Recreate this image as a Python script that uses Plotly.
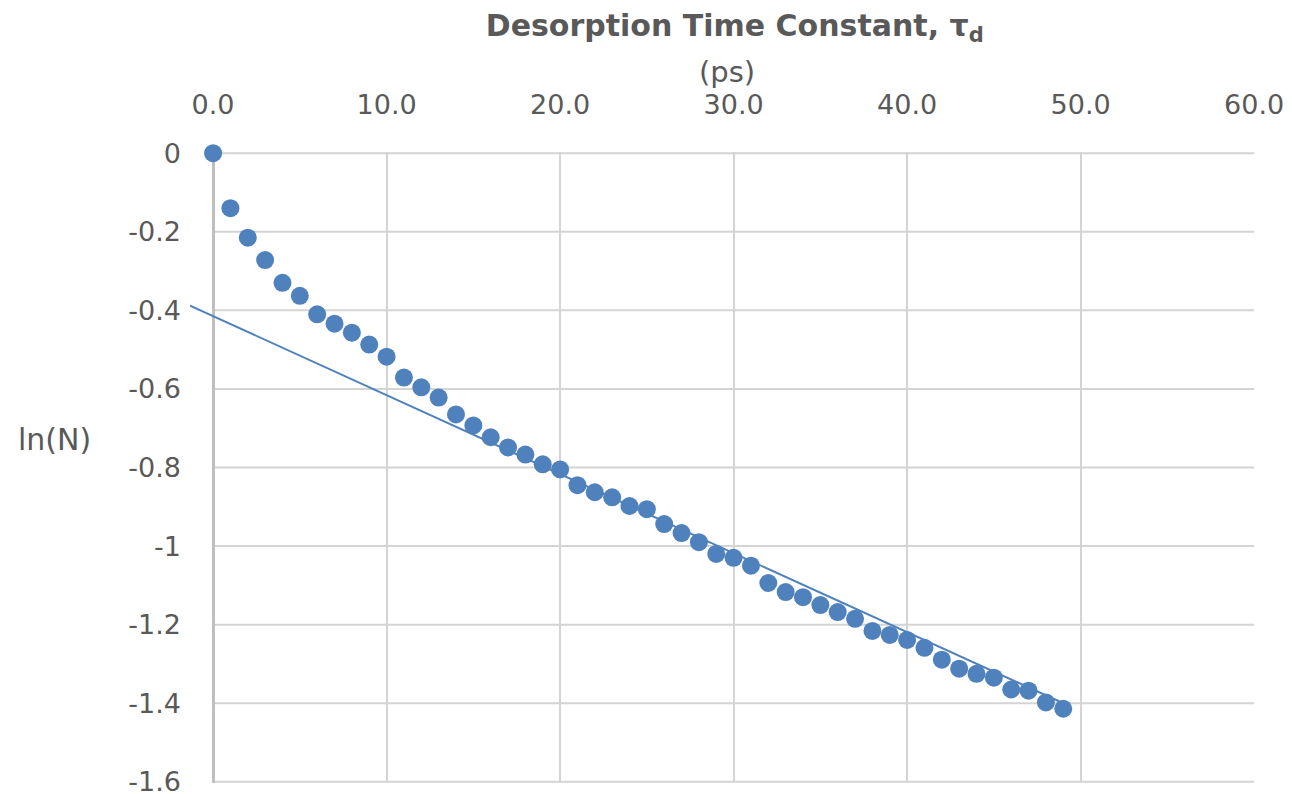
import plotly.graph_objects as go

# ---- data ----
time_ps = list(range(0, 50))
ln_n = [0.000, -0.140, -0.215, -0.272, -0.330, -0.363, -0.410, -0.434, -0.457, -0.487,
        -0.518, -0.571, -0.596, -0.622, -0.665, -0.693, -0.723, -0.749, -0.767, -0.792,
        -0.805, -0.845, -0.863, -0.876, -0.898, -0.906, -0.944, -0.967, -0.990, -1.020,
        -1.030, -1.050, -1.094, -1.117, -1.130, -1.150, -1.168, -1.185, -1.216, -1.226,
        -1.239, -1.259, -1.289, -1.312, -1.325, -1.335, -1.365, -1.368, -1.398, -1.414]
trend_x = [-1.33, 49.0]
trend_y = [-0.388, -1.400]
x_ticks = [0, 10, 20, 30, 40, 50, 60]
x_ticktext = ["0.0", "10.0", "20.0", "30.0", "40.0", "50.0", "60.0"]
y_ticks = [0, -0.2, -0.4, -0.6, -0.8, -1.0, -1.2, -1.4, -1.6]
y_ticktext = ["0", "-0.2", "-0.4", "-0.6", "-0.8", "-1", "-1.2", "-1.4", "-1.6"]

BLUE = "#4f81bd"
TXT = "#595959"
GRID = "#d4d4d4"
FONT = "DejaVu Sans"

fig = go.Figure()
fig.add_trace(go.Scatter(x=trend_x, y=trend_y, mode="lines",
                         line=dict(color=BLUE, width=2), hoverinfo="skip",
                         showlegend=False))
fig.add_trace(go.Scatter(x=time_ps, y=ln_n, mode="markers",
                         marker=dict(color=BLUE, size=18, line=dict(width=0)),
                         cliponaxis=False, showlegend=False))

# horizontal gridlines only across the x-axis span (trendline extends left of the axis)
for v in y_ticks:
    fig.add_shape(type="line", xref="x", yref="y", x0=x_ticks[0], x1=x_ticks[-1], y0=v, y1=v,
                  line=dict(color=GRID, width=2), layer="below")

fig.update_layout(
    width=1284, height=786,
    margin=dict(l=182, r=37, t=144, b=11),
    paper_bgcolor="white", plot_bgcolor="white",
    font=dict(family=FONT, color=TXT),
    title=dict(text="<b>Desorption Time Constant, τ<sub>d</sub></b>",
               x=0.566, xanchor="center", y=0.978, yanchor="middle",
               font=dict(family=FONT, size=30, color=TXT)),
    xaxis=dict(side="top", range=[-1.33, 60.05], tickvals=x_ticks, ticktext=x_ticktext,
               showgrid=True, gridcolor=GRID, gridwidth=2,
               zeroline=True, zerolinecolor="#bfbfbf", zerolinewidth=3,
               showline=False, ticks="", tickfont=dict(size=27, color=TXT),
               ticklabelstandoff=32, automargin=False),
    yaxis=dict(range=[-1.603, 0.003], tickvals=y_ticks, ticktext=y_ticktext,
               showgrid=False, zeroline=False,
               showline=False, ticks="", tickfont=dict(size=27, color=TXT),
               ticklabelstandoff=8, ticklabeloverflow="allow", automargin=False),
)
fig.add_annotation(text="(ps)", xref="paper", yref="paper", x=0.504, y=1.127,
                   xanchor="center", yanchor="middle", showarrow=False,
                   font=dict(size=29, color=TXT, family=FONT))
fig.add_annotation(text="ln(N)", xref="paper", yref="paper", x=-0.127, y=0.5436,
                   xanchor="center", yanchor="middle", showarrow=False,
                   font=dict(size=30, color=TXT, family=FONT))

fig.write_html("out.html")
